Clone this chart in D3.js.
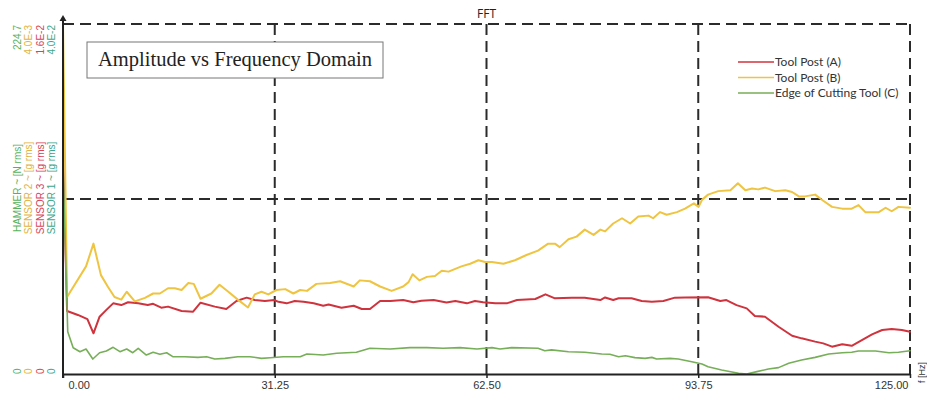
<!DOCTYPE html>
<html>
<head>
<meta charset="utf-8">
<script src="https://cdn.jsdelivr.net/npm/d3@7"></script>
<style>
  html, body { margin: 0; padding: 0; background: #fff; }
  svg { display: block; }
</style>
</head>
<body>
<svg id="chart" width="927" height="394"></svg>
<script>
// ---- Acquisition channels (left-hand stacked axes) ----
const channelNames = ["HAMMER", "SENSOR 2", "SENSOR 3", "SENSOR 1"];
const channelUnits = ["N rms", "g rms", "g rms", "g rms"];
const channelFullScale = ["224.7", "4.0E-3", "1.6E-2", "4.0E-2"];
const channelZero = ["0", "0", "0", "0"];

// ---- Frequency axis ----
const freqTicks = [0, 31.25, 62.5, 93.75, 125];

// ---- Plotted spectra: [frequency Hz, amplitude mg rms] ----
const seriesNames = ["Tool Post (A)", "Tool Post (B)", "Edge of Cutting Tool (C)"];
const seriesChannel = [2, 1, 3]; // SENSOR 3, SENSOR 2, SENSOR 1

const toolPostA = [
  [0, 10.2], [0.6, 2.88], [2.2, 2.70], [3.6, 2.51], [4.5, 1.86], [5.4, 2.62], [6.4, 2.93],
  [7.4, 3.23], [8.6, 3.15], [9.6, 3.28], [11.1, 3.23], [12.5, 3.15], [13.3, 3.21], [14.5, 3.03],
  [15.5, 3.08], [17.5, 2.88], [19.2, 2.85], [20.3, 3.26], [22.4, 3.08], [24.1, 2.97], [25.6, 3.34],
  [27.1, 3.49], [28.3, 3.38], [29.8, 3.34], [31.2, 3.38], [31.8, 3.30], [33.0, 3.23], [34.2, 3.34],
  [35.5, 3.30], [37.0, 3.23], [38.4, 3.12], [39.2, 3.18], [41.1, 3.03], [42.9, 3.12], [44.1, 2.97],
  [45.3, 2.97], [46.8, 3.34], [48.3, 3.34], [50.2, 3.38], [51.7, 3.28], [52.9, 3.35], [54.7, 3.38],
  [56.6, 3.27], [57.9, 3.34], [59.6, 3.23], [60.8, 3.34], [62.0, 3.28], [63.8, 3.23], [65.5, 3.23],
  [67.0, 3.38], [69.7, 3.43], [71.2, 3.64], [72.6, 3.46], [75.1, 3.49], [77.0, 3.49], [79.3, 3.38],
  [80.0, 3.50], [81.2, 3.38], [82.0, 3.46], [83.9, 3.46], [85.4, 3.34], [86.9, 3.30], [88.6, 3.34],
  [90.3, 3.49], [91.8, 3.50], [95.2, 3.51], [97.0, 3.34], [97.9, 3.38], [99.4, 3.15], [100.9, 3.00],
  [102.1, 2.65], [103.6, 2.62], [105.6, 2.16], [107.6, 1.75], [109.0, 1.63], [111.0, 1.48],
  [112.2, 1.40], [113.5, 1.25], [115.0, 1.36], [116.4, 1.29], [117.9, 1.55], [119.4, 1.81],
  [120.9, 2.01], [122.3, 2.06], [123.8, 2.01], [125, 1.93]
];

const toolPostB = [
  [0, 4.0], [0.6, 0.88], [3.4, 1.23], [4.5, 1.49], [5.6, 1.13], [6.6, 1.00], [7.6, 0.88],
  [8.6, 0.85], [9.4, 0.94], [10.6, 0.83], [12.1, 0.87], [13.3, 0.92], [14.3, 0.92], [15.5, 0.98],
  [16.5, 0.98], [17.5, 0.96], [18.5, 1.04], [19.3, 1.03], [20.3, 0.86], [21.9, 0.92], [23.1, 1.02],
  [24.4, 0.94], [25.8, 0.85], [27.3, 0.76], [28.3, 0.91], [29.3, 0.94], [30.3, 0.91], [31.5, 0.96],
  [32.8, 0.97], [34.0, 0.92], [35.0, 0.96], [36.0, 0.95], [37.4, 1.03], [39.4, 1.04], [40.9, 1.06],
  [42.9, 1.00], [43.8, 1.07], [45.3, 1.06], [46.8, 1.00], [48.5, 0.95], [50.2, 1.00], [51.0, 1.05],
  [51.6, 1.14], [52.6, 1.07], [53.7, 1.11], [54.9, 1.12], [55.9, 1.18], [56.9, 1.17], [58.8, 1.23],
  [60.1, 1.26], [61.3, 1.30], [62.3, 1.28], [63.3, 1.28], [65.0, 1.26], [66.7, 1.30], [68.4, 1.36],
  [70.1, 1.41], [71.6, 1.49], [72.6, 1.49], [73.3, 1.45], [74.6, 1.54], [75.8, 1.57], [77.0, 1.65],
  [78.3, 1.59], [79.3, 1.65], [80.0, 1.63], [81.2, 1.72], [82.5, 1.78], [83.7, 1.72], [84.9, 1.80],
  [86.4, 1.81], [87.1, 1.78], [88.1, 1.85], [89.1, 1.82], [90.6, 1.85], [91.8, 1.89], [93.1, 1.95],
  [93.8, 1.91], [94.3, 1.99], [95.2, 2.05], [96.7, 2.09], [98.5, 2.10], [99.6, 2.18], [100.7, 2.10],
  [101.7, 2.12], [102.6, 2.11], [103.6, 2.13], [105.1, 2.09], [106.6, 2.10], [107.6, 2.08],
  [108.6, 2.03], [109.5, 2.03], [111.0, 2.05], [112.2, 1.98], [113.5, 1.91], [115.0, 1.89],
  [116.4, 1.89], [117.4, 1.93], [118.4, 1.85], [120.4, 1.85], [121.4, 1.90], [122.3, 1.86],
  [123.3, 1.91], [125, 1.90]
];

const edgeOfCuttingTool = [
  [0, 24.0], [0.7, 4.84], [1.5, 3.00], [2.5, 2.55], [3.4, 2.86], [4.4, 1.71], [5.4, 2.43],
  [6.4, 2.63], [7.4, 3.05], [8.4, 2.55], [9.4, 2.86], [10.3, 2.43], [11.1, 2.94], [12.3, 2.17],
  [13.3, 2.48], [14.3, 2.25], [15.3, 2.43], [16.2, 1.98], [18.0, 1.98], [19.9, 1.90], [21.2, 1.98],
  [22.4, 1.71], [23.9, 1.79], [25.8, 1.98], [27.6, 1.98], [29.3, 1.79], [30.6, 1.86], [32.5, 1.98],
  [35.0, 1.98], [36.0, 2.29], [38.4, 2.17], [40.4, 2.37], [43.3, 2.48], [45.3, 2.94], [48.3, 2.86],
  [51.2, 3.01], [53.7, 3.01], [56.1, 2.94], [58.6, 3.01], [61.1, 2.86], [63.3, 3.01], [64.5, 2.86],
  [66.2, 3.01], [70.1, 2.94], [71.1, 2.66], [72.1, 2.76], [74.6, 2.55], [77.0, 2.48], [79.5, 2.29],
  [80.7, 2.25], [82.0, 1.98], [83.0, 2.09], [84.4, 1.87], [85.9, 1.79], [86.9, 1.90], [87.6, 1.71],
  [89.6, 1.79], [90.8, 1.71], [92.8, 1.41], [94.3, 1.14], [95.2, 0.83], [97.2, 0.46], [99.7, 0.08],
  [100.9, 0.00], [102.4, 0.27], [104.1, 0.57], [105.6, 0.73], [107.1, 1.22], [109.0, 1.60],
  [111.0, 1.90], [113.0, 2.29], [115.0, 2.43], [116.4, 2.48], [117.4, 2.63], [119.9, 2.63],
  [121.9, 2.43], [123.3, 2.48], [125, 2.66]
];

const seriesData = [toolPostA, toolPostB, edgeOfCuttingTool];

// ---- Styling ----
const channelColors = ["#58b25c", "#e2b344", "#d6445a", "#3ea78a"];
const lineColors = ["#cf333d", "#efc441", "#77ae58"];
const lineWidths = [2, 2, 1.6];
const gridColor = "#2b2b2b";
const dash = "11,6";

// ---- Geometry ----
const plotLeft = 63, plotRight = 910, plotTop = 24, plotBottom = 374;

const svg = d3.select("#chart");
svg.append("rect").attr("width", 927).attr("height", 394).attr("fill", "#fff");

const x = d3.scaleLinear().domain([0, 125]).range([plotLeft, plotRight]);
const yNorm = d3.scaleLinear().domain([0, 1]).range([plotBottom, plotTop]);
// each channel plotted against its own full scale (in mg rms)
const yChannel = i => d3.scaleLinear().domain([0, +channelFullScale[i] * 1000]).range([plotBottom, plotTop]);

// ---- Dashed grid / frame ----
const grid = svg.append("g").attr("fill", "none").attr("stroke", gridColor)
  .attr("stroke-width", 2).attr("stroke-dasharray", dash);

grid.selectAll("line.v").data(freqTicks.filter(d => d > 0)).join("line")
  .attr("class", "v")
  .attr("x1", d => x(d)).attr("x2", d => x(d))
  .attr("y1", yNorm(1)).attr("y2", yNorm(0));

grid.selectAll("line.h").data([0.5, 1]).join("line")
  .attr("class", "h")
  .attr("x1", x(0)).attr("x2", x(125))
  .attr("y1", d => yNorm(d)).attr("y2", d => yNorm(d));

// ---- Spectra ----
const line = d3.line().x(d => x(d[0]));
const lines = svg.append("g").attr("fill", "none")
  .attr("stroke-linejoin", "round").attr("stroke-linecap", "round");
seriesData.forEach((data, i) => {
  const y = yChannel(seriesChannel[i]);
  lines.append("path")
    .datum(data)
    .attr("d", line.y(d => y(d[1])))
    .attr("stroke", lineColors[i])
    .attr("stroke-width", lineWidths[i]);
});

// ---- Frequency axis ----
const xAxis = d3.axisBottom(x)
  .tickValues(freqTicks)
  .tickFormat(d3.format(".2f"))
  .tickSize(4)
  .tickSizeOuter(0)
  .tickPadding(3);

const gx = svg.append("g")
  .attr("transform", `translate(0,${plotBottom})`)
  .call(xAxis);
gx.select(".domain").attr("stroke", "#222").attr("stroke-width", 2);
gx.selectAll(".tick line").attr("stroke", "#222").attr("stroke-width", 1.5);
gx.selectAll(".tick text")
  .attr("font-family", "'Liberation Sans Narrow', 'Arial Narrow', 'Liberation Sans', sans-serif")
  .attr("font-size", 11)
  .attr("fill", "#333")
  .attr("text-anchor", (d, i) => i === 0 ? "start" : (i === freqTicks.length - 1 ? "end" : "middle"))
  .attr("x", (d, i) => i === 0 ? 5 : (i === freqTicks.length - 1 ? -2 : 0));

// axis unit at the right end
svg.append("text")
  .attr("transform", `translate(925,383) rotate(-90)`)
  .attr("font-family", "'Liberation Sans', sans-serif")
  .attr("font-size", 9)
  .attr("fill", "#333")
  .text("f [Hz]");

// ---- Amplitude axis line with arrow ----
svg.append("line")
  .attr("x1", plotLeft).attr("x2", plotLeft)
  .attr("y1", plotBottom + 4).attr("y2", plotTop - 4)
  .attr("stroke", "#222").attr("stroke-width", 2);
svg.append("path")
  .attr("d", d3.line()([[plotLeft - 3.5, plotTop - 3], [plotLeft, plotTop - 9], [plotLeft + 3.5, plotTop - 3]]) + "Z")
  .attr("fill", "#222");

// ---- Stacked channel labels (rotated) ----
const colX = [20.5, 32, 43.5, 55];
const labelFont = "'Liberation Sans', Arial, sans-serif";
const chan = svg.append("g").attr("font-family", labelFont).attr("font-size", 10);

channelNames.forEach((name, i) => {
  chan.append("text")
    .attr("transform", `translate(${colX[i]},${plotTop + 1}) rotate(-90)`)
    .attr("text-anchor", "end")
    .attr("fill", channelColors[i])
    .text(channelFullScale[i]);
  chan.append("text")
    .attr("transform", `translate(${colX[i]},188) rotate(-90)`)
    .attr("text-anchor", "middle")
    .attr("fill", channelColors[i])
    .text(`${name} ~ [${channelUnits[i]}]`);
  chan.append("text")
    .attr("transform", `translate(${colX[i]},${plotBottom}) rotate(-90)`)
    .attr("text-anchor", "start")
    .attr("fill", channelColors[i])
    .text(channelZero[i]);
});

// ---- Panel title ----
svg.append("text")
  .attr("x", x(62.5)).attr("y", 18)
  .attr("text-anchor", "middle")
  .attr("font-family", "'Open Sans', 'Liberation Sans', sans-serif")
  .attr("font-size", 12)
  .attr("fill", "#222")
  .text("FFT");

// ---- Boxed caption ----
svg.append("rect")
  .attr("x", 87).attr("y", 42).attr("width", 296).attr("height", 36)
  .attr("fill", "#fff").attr("stroke", "#777").attr("stroke-width", 1);
svg.append("text")
  .attr("x", 235).attr("y", 66)
  .attr("text-anchor", "middle")
  .attr("font-family", "'Liberation Serif', 'Times New Roman', serif")
  .attr("font-size", 20.5)
  .attr("fill", "#222")
  .text("Amplitude vs Frequency Domain");

// ---- Legend ----
const legend = svg.append("g");
seriesNames.forEach((name, i) => {
  const ly = 62 + i * 15.5;
  legend.append("line")
    .attr("x1", 738).attr("x2", 774).attr("y1", ly).attr("y2", ly)
    .attr("stroke", lineColors[i]).attr("stroke-width", 1.6);
  legend.append("text")
    .attr("x", 775).attr("y", ly).attr("dy", "0.35em")
    .attr("font-family", "Lato, 'Liberation Sans', sans-serif")
    .attr("font-size", 12)
    .attr("fill", "#333")
    .text(name);
});
</script>
</body>
</html>
